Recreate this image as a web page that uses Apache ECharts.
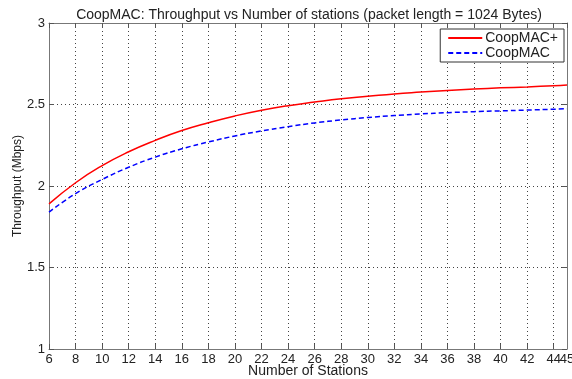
<!DOCTYPE html>
<html>
<head>
<meta charset="utf-8">
<script src="https://cdn.jsdelivr.net/npm/echarts@6/dist/echarts.min.js"></script>
<style>
  html, body { margin: 0; padding: 0; background: #fff; }
  #chart { width: 572px; height: 379px; }
</style>
</head>
<body>
<div id="chart"></div>
<script>
// stations on the x axis
const stations = [6, 8, 10, 12, 14, 16, 18, 20, 22, 24, 26, 28, 30, 32, 34, 36, 38, 40, 42, 44, 45]
// throughput in Mbps
const coopMacPlus = [1.89, 2.02, 2.125, 2.21, 2.28, 2.34, 2.388, 2.43, 2.465, 2.493, 2.515, 2.535, 2.55, 2.565, 2.576, 2.586, 2.595, 2.602, 2.608, 2.615, 2.62]
const coopMac = [1.84, 1.953, 2.04, 2.115, 2.177, 2.228, 2.27, 2.307, 2.338, 2.364, 2.387, 2.405, 2.42, 2.432, 2.442, 2.45, 2.456, 2.461, 2.466, 2.471, 2.474]
const xMin = 6
const xMax = 45

const font = 'Liberation Sans, Arial, sans-serif'
const chart = echarts.init(document.getElementById('chart'))

const gridLine = { show: true, lineStyle: { color: '#444', type: [1, 3], width: 1 } }
const boxLine = { show: true, lineStyle: { color: '#777', width: 1 } }
const inTick = { show: true, inside: true, length: 5, lineStyle: { color: '#555' } }
const tickFont = { fontFamily: font, fontSize: 13, color: '#222' }

chart.setOption({
  animation: false,
  title: {
    text: 'CoopMAC: Throughput vs Number of stations (packet length = 1024 Bytes)',
    left: 304,
    textAlign: 'center',
    top: 3,
    textStyle: { fontFamily: font, fontSize: 14, fontWeight: 'normal', color: '#222' }
  },
  legend: {
    right: 8,
    top: 29,
    orient: 'vertical',
    itemGap: 1,
    itemWidth: 34,
    itemHeight: 12,
    padding: [2, 6, 2, 7],
    backgroundColor: '#fff',
    borderColor: '#333',
    borderWidth: 1,
    borderRadius: 0,
    itemStyle: { opacity: 0 },
    textStyle: { fontFamily: font, fontSize: 14, color: '#222', padding: [0, 0, 0, -2] },
    data: ['CoopMAC+', 'CoopMAC']
  },
  grid: { left: 49, right: 5, top: 23, bottom: 30, outerBoundsMode: 'none' },
  xAxis: [{
    type: 'value',
    min: xMin,
    max: xMax,
    interval: 2,
    name: 'Number of Stations',
    nameLocation: 'middle',
    nameGap: 15,
    nameMoveOverlap: false,
    nameTextStyle: { fontFamily: font, fontSize: 14, color: '#222' },
    axisLine: boxLine,
    axisTick: inTick,
    axisLabel: { ...tickFont, margin: 4, showMaxLabel: false },
    splitLine: gridLine
  }, {
    type: 'value',
    position: 'top',
    min: xMin,
    max: xMax,
    interval: 2,
    axisLine: boxLine,
    axisTick: inTick,
    axisLabel: { show: false },
    splitLine: { show: false }
  }, {
    // only carries the end label "45"
    type: 'value',
    position: 'bottom',
    min: xMin,
    max: xMax,
    interval: xMax - xMin,
    axisLine: { show: false },
    axisTick: { show: false },
    axisLabel: { ...tickFont, margin: 4, showMinLabel: false, formatter: v => (v === xMax ? String(v) : '') },
    splitLine: { show: false }
  }],
  yAxis: [{
    type: 'value',
    min: 1,
    max: 3,
    interval: 0.5,
    name: 'Throughput (Mbps)',
    nameLocation: 'middle',
    nameGap: 25,
    nameMoveOverlap: false,
    nameTextStyle: { fontFamily: font, fontSize: 12, color: '#222' },
    axisLine: boxLine,
    axisTick: inTick,
    axisLabel: { ...tickFont, margin: 4 },
    splitLine: gridLine
  }, {
    type: 'value',
    position: 'right',
    min: 1,
    max: 3,
    interval: 0.5,
    axisLine: boxLine,
    axisTick: inTick,
    axisLabel: { show: false },
    splitLine: { show: false }
  }],
  series: [{
    name: 'CoopMAC+',
    type: 'line',
    smooth: true,
    symbol: 'none',
    color: '#ff0000',
    lineStyle: { color: '#ff0000', width: 1.5 },
    data: stations.map((s, i) => [s, coopMacPlus[i]])
  }, {
    name: 'CoopMAC',
    type: 'line',
    smooth: true,
    symbol: 'none',
    color: '#0000ff',
    lineStyle: { color: '#0000ff', width: 1.5, type: [5, 3] },
    data: stations.map((s, i) => [s, coopMac[i]])
  }]
})
</script>
</body>
</html>
